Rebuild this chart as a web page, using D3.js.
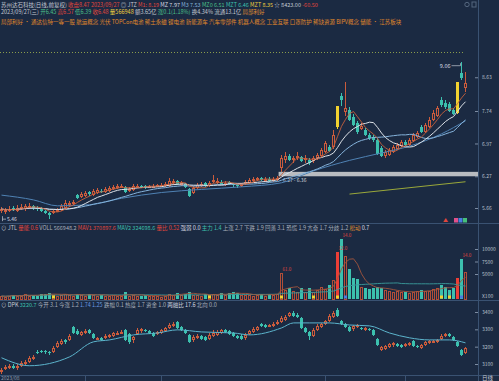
<!DOCTYPE html>
<html>
<head>
<meta charset="utf-8">
<script src="https://cdn.jsdelivr.net/npm/d3@7"></script>
<style>
  body { margin: 0; background: #1b2a42; }
  svg text { font-family: "Noto Sans CJK SC", sans-serif; }
</style>
</head>
<body>
<svg id="chart" width="499" height="381"></svg>
<script>
// ---- price candles (daily) ----
var opens = [5.61,5.59,5.62,5.66,5.61,5.64,5.64,5.68,5.70,5.66,
  5.66,5.61,5.57,5.57,5.61,5.62,5.66,5.72,5.73,5.90,
  5.86,5.88,5.96,5.90,5.94,5.98,5.96,5.98,6.02,6.04,
  6.06,6.06,5.98,6.00,6.06,6.08,6.08,6.06,6.06,6.08,
  6.08,6.08,6.08,6.14,6.18,6.10,6.12,6.02,5.94,6.04,
  6.08,6.14,6.08,6.16,6.14,6.16,6.12,6.16,6.12,6.10,
  6.08,6.12,6.14,6.18,6.20,6.24,6.20,6.22,6.18,6.20,
  6.44,6.61,6.69,6.61,6.65,6.67,6.61,6.61,6.59,6.65,
  6.69,6.78,6.89,6.89,7.36,8.12,7.72,7.77,7.59,7.45,
  7.30,7.28,7.16,7.12,7.05,6.87,6.69,6.72,6.78,6.85,
  6.91,7.00,6.94,7.03,7.12,7.35,7.23,7.35,7.52,7.62,
  8.02,7.94,7.92,7.77,7.70,8.75,8.34];
var closes = [5.64,5.62,5.64,5.62,5.66,5.68,5.70,5.70,5.66,5.64,
  5.61,5.57,5.53,5.61,5.62,5.70,5.75,5.75,5.77,5.85,
  5.92,5.94,5.92,5.98,6.00,5.96,6.02,6.04,6.06,6.08,
  6.08,5.96,6.02,6.08,6.08,6.06,6.06,6.08,6.08,6.10,
  6.10,6.12,6.18,6.18,6.12,6.14,6.06,5.88,6.04,6.10,
  6.12,6.08,6.14,6.20,6.18,6.12,6.14,6.12,6.10,6.08,
  6.12,6.16,6.20,6.22,6.24,6.20,6.22,6.18,6.22,6.24,
  6.65,6.69,6.61,6.65,6.69,6.59,6.65,6.54,6.65,6.72,
  6.82,6.98,6.80,7.16,7.87,8.02,7.82,7.52,7.40,7.23,
  7.38,7.16,7.10,7.05,6.74,6.69,6.78,6.82,6.89,6.94,
  7.00,6.94,7.05,7.16,7.21,7.23,7.40,7.52,7.69,7.82,
  7.89,7.84,7.74,7.67,8.50,8.61,8.47];
var highs = [5.68,5.66,5.70,5.70,5.72,5.73,5.73,5.75,5.72,5.70,
  5.68,5.62,5.59,5.64,5.66,5.73,5.81,5.79,5.81,5.92,
  5.96,5.98,5.98,6.02,6.04,6.02,6.06,6.08,6.10,6.12,
  6.12,6.08,6.06,6.12,6.12,6.10,6.10,6.10,6.12,6.12,
  6.14,6.16,6.24,6.22,6.20,6.18,6.14,6.04,6.08,6.14,
  6.16,6.16,6.18,6.30,6.24,6.20,6.18,6.18,6.14,6.12,
  6.14,6.20,6.24,6.26,6.26,6.26,6.26,6.26,6.26,6.27,
  6.72,6.78,6.74,6.69,6.78,6.69,6.72,6.65,6.69,6.76,
  6.87,7.03,6.94,7.28,7.87,8.20,8.50,7.84,7.67,7.50,
  7.45,7.33,7.21,7.16,7.10,6.91,6.82,6.87,6.94,6.98,
  7.05,7.05,7.10,7.21,7.26,7.40,7.45,7.59,7.77,7.87,
  8.10,8.02,7.97,7.82,8.50,9.06,8.78];
var lows = [5.57,5.55,5.59,5.61,5.59,5.62,5.61,5.64,5.62,5.61,
  5.59,5.55,5.46,5.55,5.59,5.61,5.64,5.68,5.72,5.83,
  5.85,5.86,5.88,5.88,5.92,5.94,5.94,5.96,6.00,6.02,
  6.04,5.94,5.96,5.98,6.04,6.04,6.02,6.04,6.04,6.06,
  6.06,6.06,6.06,6.10,6.10,6.08,6.04,5.86,5.92,6.02,
  6.06,6.06,6.06,6.14,6.12,6.10,6.08,6.10,6.06,6.04,
  6.06,6.10,6.12,6.16,6.18,6.18,6.16,6.16,6.16,6.18,
  6.36,6.54,6.59,6.54,6.61,6.57,6.54,6.50,6.54,6.61,
  6.67,6.76,6.78,6.85,7.30,7.87,7.62,7.50,7.38,7.19,
  7.28,7.14,7.05,7.00,6.72,6.67,6.65,6.69,6.76,6.82,
  6.89,6.91,6.91,7.00,7.10,7.21,7.21,7.33,7.50,7.59,
  7.84,7.79,7.72,7.64,7.67,8.55,8.23];
var limitUpDays = [84, 114];

// volume (lots)
var vols = [600,500,700,900,600,700,1000,600,800,700,
  1000,1100,1200,900,600,900,1100,800,700,1000,
  800,700,1100,800,700,900,600,700,800,700,
  600,1400,700,800,600,700,800,600,700,600,
  500,700,1000,800,1300,900,1100,1500,900,800,
  700,1100,800,1000,900,1200,800,1300,1400,1200,
  900,800,900,700,800,1000,700,1100,900,1000,
  5200,1800,2200,1600,1500,2200,1400,2200,1500,1800,
  2400,2000,2800,3800,9400,12000,8600,6000,4200,4000,
  2400,2200,2100,2200,2400,2200,1800,1600,1400,1600,
  1500,1400,1300,1500,1600,1800,1600,1700,2000,2300,
  2800,2400,1800,2200,4200,8000,5400];

// long moving average
var longMaIdx = [0, 8, 14, 22, 30, 40, 50, 60, 70, 78, 87, 95, 102, 110, 116];
var longMa = [5.90, 5.81, 5.70, 5.72, 5.84, 5.95, 6.01, 6.06, 6.14, 6.38, 6.60, 6.76, 6.91, 7.19, 7.50];

// trend line
var trendIdx = [87, 116];
var trendVal = [5.92, 6.16];

// signal squares under the volume bars
var sigIdx = [13, 52, 70, 78, 84, 86, 110, 112, 115];
var sigType = ["y", "y", "y", "y", "y", "b", "y", "y", "b"];

// red percentage notes above volume bars
var volNoteIdx = [70, 84, 85, 115];
var volNote = ["61.0", "12.0", "14.0", "14.0"];

// ---- market index (DPK) ----
var dpkOpen = [3055,3072,3084,3090,3078,3090,3101,3113,3130,3170,
  3176,3176,3170,3170,3199,3216,3239,3239,3314,3291,
  3268,3285,3297,3274,3245,3251,3251,3256,3262,3274,
  3279,3297,3274,3239,3274,3291,3297,3291,3279,3274,
  3279,3291,3308,3320,3343,3314,3297,3268,3239,3251,
  3262,3256,3245,3262,3268,3279,3297,3291,3279,3262,
  3262,3251,3274,3285,3297,3331,3325,3320,3320,3331,
  3343,3354,3377,3394,3383,3366,3308,3285,3262,3297,
  3314,3331,3348,3371,3412,3348,3331,3314,3302,3314,
  3308,3297,3302,3297,3245,3182,3187,3199,3210,3216,
  3210,3205,3210,3233,3205,3193,3210,3222,3228,3228,
  3245,3262,3274,3256,3228,3182,3164];
var dpkClose = [3067,3084,3090,3078,3090,3107,3113,3136,3141,3164,
  3170,3170,3164,3193,3222,3233,3228,3262,3279,3274,
  3285,3291,3279,3251,3251,3239,3262,3268,3279,3279,
  3285,3239,3228,3256,3297,3302,3291,3279,3262,3285,
  3297,3308,3325,3331,3308,3297,3279,3228,3256,3262,
  3245,3239,3268,3279,3285,3297,3285,3274,3262,3251,
  3245,3268,3291,3302,3314,3320,3314,3325,3331,3343,
  3366,3371,3394,3377,3371,3308,3285,3262,3297,3320,
  3331,3348,3377,3394,3377,3331,3314,3291,3320,3325,
  3302,3308,3297,3268,3210,3199,3205,3216,3222,3205,
  3199,3216,3222,3205,3199,3210,3228,3233,3233,3239,
  3262,3274,3262,3239,3205,3153,3193];
var dpkHigh = [3078,3095,3101,3101,3101,3118,3124,3147,3153,3182,
  3182,3182,3176,3205,3233,3245,3245,3274,3320,3302,
  3291,3302,3302,3279,3256,3256,3274,3274,3285,3291,
  3297,3302,3279,3262,3308,3308,3302,3297,3285,3291,
  3302,3314,3337,3343,3348,3320,3302,3274,3268,3274,
  3268,3262,3279,3297,3297,3302,3302,3297,3285,3268,
  3274,3279,3297,3314,3320,3337,3331,3331,3343,3354,
  3377,3383,3400,3406,3394,3371,3314,3291,3308,3331,
  3337,3354,3389,3406,3423,3354,3337,3320,3325,3331,
  3314,3314,3308,3302,3251,3205,3210,3222,3228,3222,
  3216,3222,3228,3239,3210,3216,3233,3239,3239,3245,
  3274,3279,3279,3262,3233,3187,3199];
var dpkLow = [3044,3067,3072,3072,3067,3084,3095,3107,3124,3159,
  3164,3159,3153,3164,3193,3210,3216,3233,3274,3268,
  3262,3274,3274,3245,3239,3233,3245,3251,3256,3268,
  3274,3233,3216,3222,3268,3279,3285,3274,3256,3268,
  3274,3285,3302,3314,3302,3291,3274,3222,3228,3245,
  3239,3233,3239,3256,3262,3274,3279,3268,3256,3245,
  3239,3239,3268,3279,3291,3314,3308,3314,3314,3325,
  3337,3348,3371,3371,3366,3302,3279,3239,3256,3291,
  3308,3325,3343,3366,3371,3325,3308,3285,3291,3308,
  3297,3291,3291,3262,3205,3176,3182,3193,3199,3199,
  3193,3199,3205,3199,3193,3187,3205,3216,3222,3222,
  3239,3256,3256,3233,3199,3147,3159];
var dpkMaIdx = [0, 7, 17, 23, 27, 33, 39, 44, 50, 58, 62, 70, 73, 77, 82, 87, 92, 97, 102, 107, 112, 116];
var dpkMa = [3136, 3090, 3141, 3228, 3239, 3268, 3279, 3297, 3285, 3279, 3268, 3308, 3337, 3337, 3337, 3325, 3320, 3279, 3251, 3239, 3239, 3222];

// ticks
var priceTicks = [8.63, 7.74, 6.97, 6.27, 5.66];
var volTicks = [10000, 7500, 5000];
var dpkTicks = [3400, 3300, 3200, 3100];
var monthTickIdx = [21, 40, 81, 101];

// header rows
var row1 = [["苏州达石科技(日线,前复权)", "#c3c9d2"], [" 收盘8.47 2023/09/27", "#e0463c"], [" ◎ JTZ", "#c3c9d2"],
  [" M1: 8.19", "#e0463c"], [" MZ 7.97", "#d8dde4"], [" M3 7.53", "#86b4dc"], [" MZ0 6.51", "#4cc08a"],
  [" MZT 6.46", "#3cc0ae"], [" MZT 8.35", "#f0d040"], [" ☆ 8423.00", "#c3c9d2"], [" -60.50", "#e0463c"]];
var row2 = [["2023/09/27(三)", "#c3c9d2"], [" 开6.45", "#4cc08a"], [" 高6.57", "#e0463c"], [" 低6.39", "#4cc08a"],
  [" 收6.48", "#e0463c"], [" 量566948", "#f0d040"], [" 额3.65亿", "#c3c9d2"], [" 涨0.1(1.18%)", "#4cc08a"],
  [" 换4.34%", "#c3c9d2"], [" 流通13.1亿", "#c3c9d2"], [" 局部利好", "#e09030"]];
var row3 = [["局部利好 • 通达信特一等一股 航运概念 光伏 TOPCon电池 稀土永磁 锂电池 新能源车 汽车零部件 机器人概念 工业互联 口罩防护 稀缺资源 BIPV概念 储能 • 江苏板块", "#e0892a"]];
var volHead = [["⊙ JTL", "#c3c9d2"], [" 量能 0.6", "#e0463c"], [" VOLL 566948.2", "#a8b0bc"], [" MAV1 370897.6", "#e0463c"],
  [" MAV2 324698.6", "#3cc0ae"], [" 量比 0.52", "#e0463c"], [" 强弱 0.0", "#d8dde4"], [" 主力 1.4", "#3cc0ae"],
  [" 上涨 2.7 下跌 1.9", "#a8b0bc"], [" 回落 3.1 恐慌 1.9 亢奋 1.7 分歧 1.2", "#a8b0bc"], [" 松动", "#e09030"], [" 0.7", "#d8dde4"]];
var dpkHead = [["⊙ DPK", "#c3c9d2"], [" 3220.7", "#3cc0ae"], [" 今开 3.1", "#a8b0bc"], [" 今涨 1.2", "#a8b0bc"],
  [" 1.74 1.25", "#6a9ae0"], [" 跌幅 0.1", "#a8b0bc"], [" 热度 1.7", "#a8b0bc"], [" 资金 1.0", "#a8b0bc"],
  [" 两融比 17.6", "#d8dde4"], [" 北向 0.0", "#a8b0bc"]];

var UP = "#cc5c3c", DOWN = "#3cc0ae", LIMIT = "#f2d230", GRID = "#3a5272";
var N = closes.length;
var svg = d3.select("#chart");
svg.append("rect").attr("width", 499).attr("height", 381).attr("fill", "#1b2a42");

var x = d3.scaleBand().domain(d3.range(N)).range([-1, 467]).paddingInner(0.25);
function cx(i) { return Math.round(x(i) + x.bandwidth() / 2) + 0.5; }

var yP = d3.scaleLog().domain([5.66, 7.74]).range([208, 111]);
var yV = d3.scaleLinear().domain([0, 10000]).range([299, 249]);
var yD = d3.scaleLinear().domain([3100, 3400]).range([364, 312]);

function ma(arr, n) {
  return arr.map(function (v, i) { return d3.mean(arr.slice(Math.max(0, i - n + 1), i + 1)); });
}

function header(rows, y) {
  var t = svg.append("text").attr("x", 1).attr("y", y).attr("font-size", 5.5);
  rows.forEach(function (r) { t.append("tspan").text(r[0]).attr("fill", r[1]); });
}

// frame lines
svg.append("line").attr("x1", 478.5).attr("x2", 478.5).attr("y1", 0).attr("y2", 381).attr("stroke", GRID);
[223.5, 300.5, 375.5].forEach(function (yy) {
  svg.append("line").attr("x1", 0).attr("x2", 499).attr("y1", yy).attr("y2", yy).attr("stroke", GRID);
});
svg.append("line").attr("x1", 0).attr("x2", 463).attr("y1", 52.5).attr("y2", 52.5)
  .attr("stroke", "#8a9c4c").attr("stroke-dasharray", "1,2");

header(row1, 7);
header(row2, 14);
header(row3, 24);
header(volHead, 230);
header(dpkHead, 307);

// top right icons
svg.append("circle").attr("cx", 467).attr("cy", 4.5).attr("r", 2.2).attr("fill", "none").attr("stroke", "#55677f");
svg.append("rect").attr("x", 472).attr("y", 2).attr("width", 4).attr("height", 5).attr("fill", "none").attr("stroke", "#55677f");

function candles(g, O, H, L, C, y, lim) {
  d3.range(N).forEach(function (i) {
    var up = C[i] >= O[i], isLim = lim.indexOf(i) >= 0;
    var col = isLim ? LIMIT : up ? UP : DOWN;
    var c = cx(i);
    var top = Math.round(y(Math.max(O[i], C[i]))), bot = Math.round(y(Math.min(O[i], C[i])));
    if (bot - top < 1) bot = top + 1;
    g.append("line").attr("x1", c).attr("x2", c).attr("y1", y(H[i])).attr("y2", top).attr("stroke", col);
    g.append("line").attr("x1", c).attr("x2", c).attr("y1", bot).attr("y2", y(L[i])).attr("stroke", col);
    if (up && !isLim) {
      g.append("rect").attr("x", c - 1).attr("y", top + 0.5).attr("width", 2).attr("height", Math.max(bot - top - 1, 0.5))
        .attr("fill", "none").attr("stroke", col);
    } else {
      g.append("rect").attr("x", c - 1.5).attr("y", top).attr("width", 3).attr("height", bot - top).attr("fill", col);
    }
  });
}

// ---- main price pane ----
var gP = svg.append("g").attr("shape-rendering", "crispEdges");
// gap band
svg.append("rect").attr("x", x(70) - 1).attr("y", yP(lows[70])).attr("width", 478 - x(70) + 1)
  .attr("height", yP(highs[69]) - yP(lows[70])).attr("fill", "#b9bcc0");
svg.append("text").attr("x", 283).attr("y", yP(highs[69]) + 5.5).attr("font-size", 5).attr("fill", "#d0d4da")
  .text(d3.format(".2f")(highs[69]) + " - " + d3.format(".2f")(lows[70]));

var lineP = function (vals) {
  return d3.line().defined(function (d) { return d != null; })
    .x(function (d, i) { return cx(i); }).y(function (d) { return yP(d); })(vals);
};
svg.append("path").attr("d", d3.line().x(function (d, k) { return cx(longMaIdx[k]); }).y(function (d) { return yP(d); })
  .curve(d3.curveMonotoneX)(longMa)).attr("fill", "none").attr("stroke", "#4f82b4").attr("stroke-width", 1);
svg.append("path").attr("d", lineP(ma(closes, 20))).attr("fill", "none").attr("stroke", "#86b4dc").attr("stroke-width", 1);
svg.append("path").attr("d", lineP(ma(closes, 10))).attr("fill", "none").attr("stroke", "#dde2e8").attr("stroke-width", 1);
svg.append("path").attr("d", lineP(ma(closes, 5))).attr("fill", "none").attr("stroke", "#c4603c").attr("stroke-width", 0.9);
svg.append("path").attr("d", d3.line().x(function (d, k) { return cx(trendIdx[k]); }).y(function (d) { return yP(d); })(trendVal))
  .attr("fill", "none").attr("stroke", "#9aa83a").attr("stroke-width", 1);

candles(gP, opens, highs, lows, closes, yP, limitUpDays);

// max / min notes
var iMax = d3.maxIndex(highs), iMin = d3.minIndex(lows);
var yMax = yP(highs[iMax]);
svg.append("path").attr("d", "M" + (cx(iMax) - 10) + "," + (yMax + 3.5) + "H" + (cx(iMax) - 1) + "V" + (yMax + 1))
  .attr("fill", "none").attr("stroke", "#c3c9d2").attr("stroke-width", 0.7);
svg.append("text").attr("x", cx(iMax) - 11).attr("y", yMax + 5.5).attr("text-anchor", "end").attr("font-size", 5.5)
  .attr("fill", "#d8dde4").text(d3.format(".2f")(highs[iMax]));
var yMin = yP(lows[iMin]);
svg.append("path").attr("d", "M2.5," + (yMin - 3) + "V" + (yMin + 2) + "M2.5," + yMin + "H6")
  .attr("fill", "none").attr("stroke", "#c3c9d2").attr("stroke-width", 0.7);
svg.append("text").attr("x", 7).attr("y", yMin + 2).attr("font-size", 5).attr("fill", "#d8dde4").text(d3.format(".2f")(lows[iMin]));

// signal tags at pane bottom
svg.append("text").attr("x", 443).attr("y", 222).attr("font-size", 5).attr("fill", "#e0463c").text("▲");
[["#e0508a", 454], ["#4a7ee0", 458.5], ["#46c07a", 463]].forEach(function (b) {
  svg.append("rect").attr("x", b[1]).attr("y", 218).attr("width", 4).attr("height", 4.5).attr("fill", b[0]);
});

// price axis
var axP = svg.append("g").attr("transform", "translate(478,0)")
  .call(d3.axisRight(yP).tickValues(priceTicks).tickSizeInner(-3).tickSizeOuter(0).tickPadding(4).tickFormat(d3.format(".2f")));

// ---- volume pane ----
var gV = svg.append("g").attr("shape-rendering", "crispEdges");
d3.range(N).forEach(function (i) {
  var up = closes[i] >= opens[i], isLim = limitUpDays.indexOf(i) >= 0;
  var c = cx(i), top = Math.round(yV(vols[i])), bot = Math.round(yV(0));
  if (isLim) {
    gV.append("rect").attr("x", c - 1.5).attr("y", top).attr("width", 3).attr("height", bot - top).attr("fill", "#ec3e36");
  } else if (up) {
    gV.append("rect").attr("x", c - 1).attr("y", top + 0.5).attr("width", 2).attr("height", bot - top - 0.5)
      .attr("fill", "none").attr("stroke", "#b24e38");
  } else {
    gV.append("rect").attr("x", c - 1.5).attr("y", top).attr("width", 3).attr("height", bot - top).attr("fill", DOWN);
  }
});
var lineV = function (vals) {
  return d3.line().x(function (d, i) { return cx(i); }).y(function (d) { return yV(d); })(vals);
};
svg.append("path").attr("d", lineV(ma(vols, 30))).attr("fill", "none").attr("stroke", "#3a9c9c").attr("stroke-width", 0.9);
svg.append("path").attr("d", lineV(ma(vols, 5))).attr("fill", "none").attr("stroke", "#a2553c").attr("stroke-width", 0.9);
sigIdx.forEach(function (i, k) {
  svg.append("rect").attr("x", cx(i) - 1.5).attr("y", 295.5).attr("width", 3).attr("height", 3)
    .attr("fill", sigType[k] === "y" ? LIMIT : "#4a7ee0");
});
volNoteIdx.forEach(function (i, k) {
  svg.append("text").attr("x", cx(i) + 1).attr("y", yV(vols[i]) - 2).attr("font-size", 4.5)
    .attr("fill", "#e0463c").text(volNote[k]);
});
svg.append("g").attr("transform", "translate(478,0)")
  .call(d3.axisRight(yV).tickValues(volTicks).tickSizeInner(-3).tickSizeOuter(0).tickPadding(4).tickFormat(d3.format("d")));
svg.append("text").attr("x", 482).attr("y", 298).attr("font-size", 5).attr("fill", "#b8c0cc").text("X100");

// ---- index pane ----
var gD = svg.append("g").attr("shape-rendering", "crispEdges");
candles(gD, dpkOpen, dpkHigh, dpkLow, dpkClose, yD, []);
svg.append("path").attr("d", d3.line().x(function (d, k) { return cx(dpkMaIdx[k]); }).y(function (d) { return yD(d); })
  .curve(d3.curveMonotoneX)(dpkMa)).attr("fill", "none").attr("stroke", "#5cb4cc").attr("stroke-width", 1);
svg.append("g").attr("transform", "translate(478,0)")
  .call(d3.axisRight(yD).tickValues(dpkTicks).tickSizeInner(-3).tickSizeOuter(0).tickPadding(4).tickFormat(d3.format("d")));

// bottom time axis
monthTickIdx.forEach(function (i) {
  svg.append("line").attr("x1", cx(i)).attr("x2", cx(i)).attr("y1", 375).attr("y2", 381).attr("stroke", GRID);
});
svg.append("text").attr("x", 1).attr("y", 380).attr("font-size", 5).attr("fill", "#8f9aaa").text("2023/08");
svg.append("text").attr("x", 482).attr("y", 380).attr("font-size", 5.5).attr("fill", "#c3c9d2").text("日线");

// axis styling
svg.selectAll(".domain").remove();
svg.selectAll(".tick line").attr("stroke", "#7d8ca2");
svg.selectAll(".tick text").attr("fill", "#b8c0cc").attr("font-size", 5).attr("font-family", "Noto Sans CJK SC, sans-serif");
</script>
</body>
</html>
